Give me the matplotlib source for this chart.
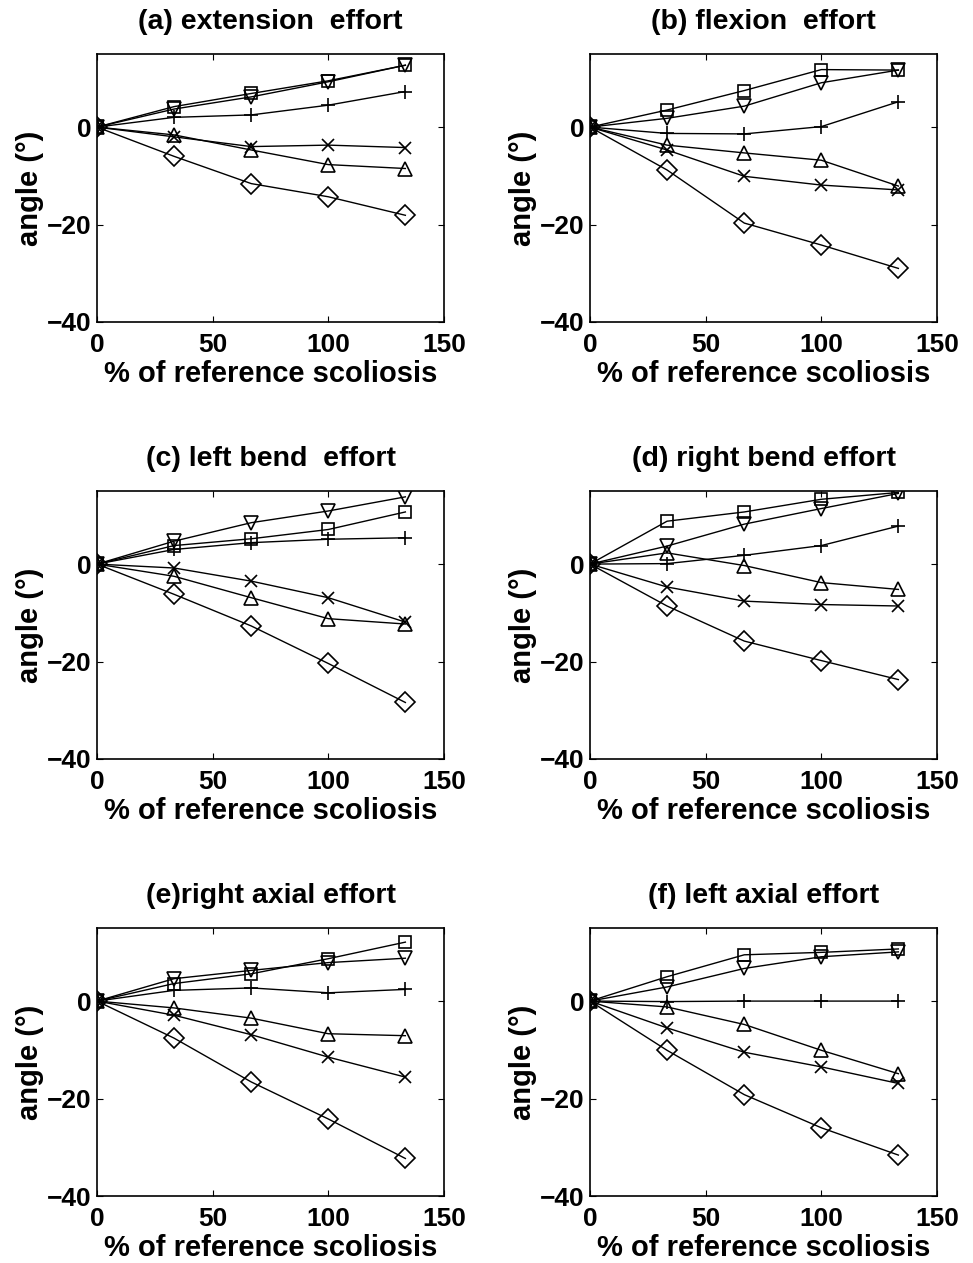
import matplotlib
matplotlib.use("Agg")
import matplotlib.pyplot as plt

plt.rcParams['font.family'] = ['Liberation Sans', 'DejaVu Sans']
plt.rcParams['font.weight'] = 'bold'

x_pct = [0, 33.3, 66.7, 100, 133.3]

titles = ["(a) extension  effort", "(b) flexion  effort",
          "(c) left bend  effort", "(d) right bend effort",
          "(e)right axial effort", "(f) left axial effort"]

# series per panel: square, down-triangle, plus, x, up-triangle, diamond
square = [
    [0, 4.2, 6.9, 9.5, 12.7],
    [0, 3.5, 7.5, 11.8, 11.7],
    [0, 3.8, 5.2, 7.1, 10.7],
    [0, 8.8, 10.7, 13.3, 14.7],
    [0, 3.6, 5.6, 8.7, 12.1],
    [0, 5.0, 9.5, 10.0, 10.7],
]
down_tri = [
    [0, 3.7, 6.2, 9.3, 12.7],
    [0, 1.8, 4.3, 9.1, 11.7],
    [0, 4.7, 8.5, 10.9, 13.8],
    [0, 3.7, 8.2, 11.4, 14.5],
    [0, 4.6, 6.3, 7.9, 8.8],
    [0, 2.9, 6.7, 9.1, 10.1],
]
plus = [
    [0, 2.0, 2.5, 4.5, 7.3],
    [0, -1.3, -1.4, 0.1, 5.2],
    [0, 3.0, 4.4, 5.1, 5.4],
    [0, 0.1, 1.8, 3.8, 7.8],
    [0, 2.2, 2.7, 1.7, 2.4],
    [0, -0.1, 0.0, 0.0, 0.0],
]
cross = [
    [0, -2.0, -4.0, -3.7, -4.2],
    [0, -4.7, -10.1, -11.9, -12.9],
    [0, -0.8, -3.5, -6.9, -11.9],
    [0, -4.7, -7.6, -8.3, -8.6],
    [0, -2.9, -6.9, -11.5, -15.6],
    [0, -5.5, -10.5, -13.5, -16.9],
]
up_tri = [
    [0, -1.6, -4.7, -7.7, -8.5],
    [0, -3.7, -5.3, -6.8, -12.1],
    [0, -2.5, -6.9, -11.2, -12.3],
    [0, 2.3, -0.3, -3.8, -5.2],
    [0, -1.4, -3.5, -6.7, -7.1],
    [0, -1.2, -4.8, -10.1, -14.9],
]
diamond = [
    [0, -6.0, -11.6, -14.3, -18.1],
    [0, -8.8, -19.7, -24.2, -29.0],
    [0, -6.2, -12.7, -20.4, -28.4],
    [0, -8.6, -15.8, -19.8, -23.7],
    [0, -7.6, -16.6, -24.2, -32.3],
    [0, -10.1, -19.2, -26.0, -31.6],
]

series = [(square, 's', 9), (down_tri, 'v', 10.5), (plus, '+', 10),
          (cross, 'x', 9), (up_tri, '^', 10.5), (diamond, 'D', 10)]

x_ticks = [0, 50, 100, 150]
y_ticks = [-40, -20, 0]

fig = plt.figure(figsize=(9.73, 12.63), dpi=100)
W, H = 973, 1263
lefts = [97, 590]
tops = [54, 491, 928]
aw, ah = 347, 268

for i, title in enumerate(titles):
    r, c = divmod(i, 2)
    l = lefts[c]
    t = tops[r]
    ax = fig.add_axes([l / W, 1 - (t + ah) / H, aw / W, ah / H])
    for data, mk, ms in series:
        ax.plot(x_pct, data[i], color='black', lw=1.0, marker=mk,
                markersize=ms, markerfacecolor='none', markeredgecolor='black',
                markeredgewidth=1.2)
    ax.set_xlim(0, 150)
    ax.set_ylim(-40, 15)
    ax.set_xticks(x_ticks)
    ax.set_yticks(y_ticks)
    ax.tick_params(direction='in', top=True, right=True, length=4,
                   labelsize=19)
    ax.tick_params(axis='x', pad=8)
    ax.tick_params(axis='y', pad=4)
    for lab in ax.get_xticklabels() + ax.get_yticklabels():
        lab.set_fontweight('bold')
    ax.set_title(title, fontsize=20.5, fontweight='bold', pad=18)
    ax.set_xlabel('% of reference scoliosis', fontsize=21, fontweight='bold', labelpad=2)
    ax.set_ylabel('angle (°)', fontsize=21, fontweight='bold', labelpad=2)
    for sp in ax.spines.values():
        sp.set_linewidth(1.2)

fig.savefig('out.png', dpi=100)
